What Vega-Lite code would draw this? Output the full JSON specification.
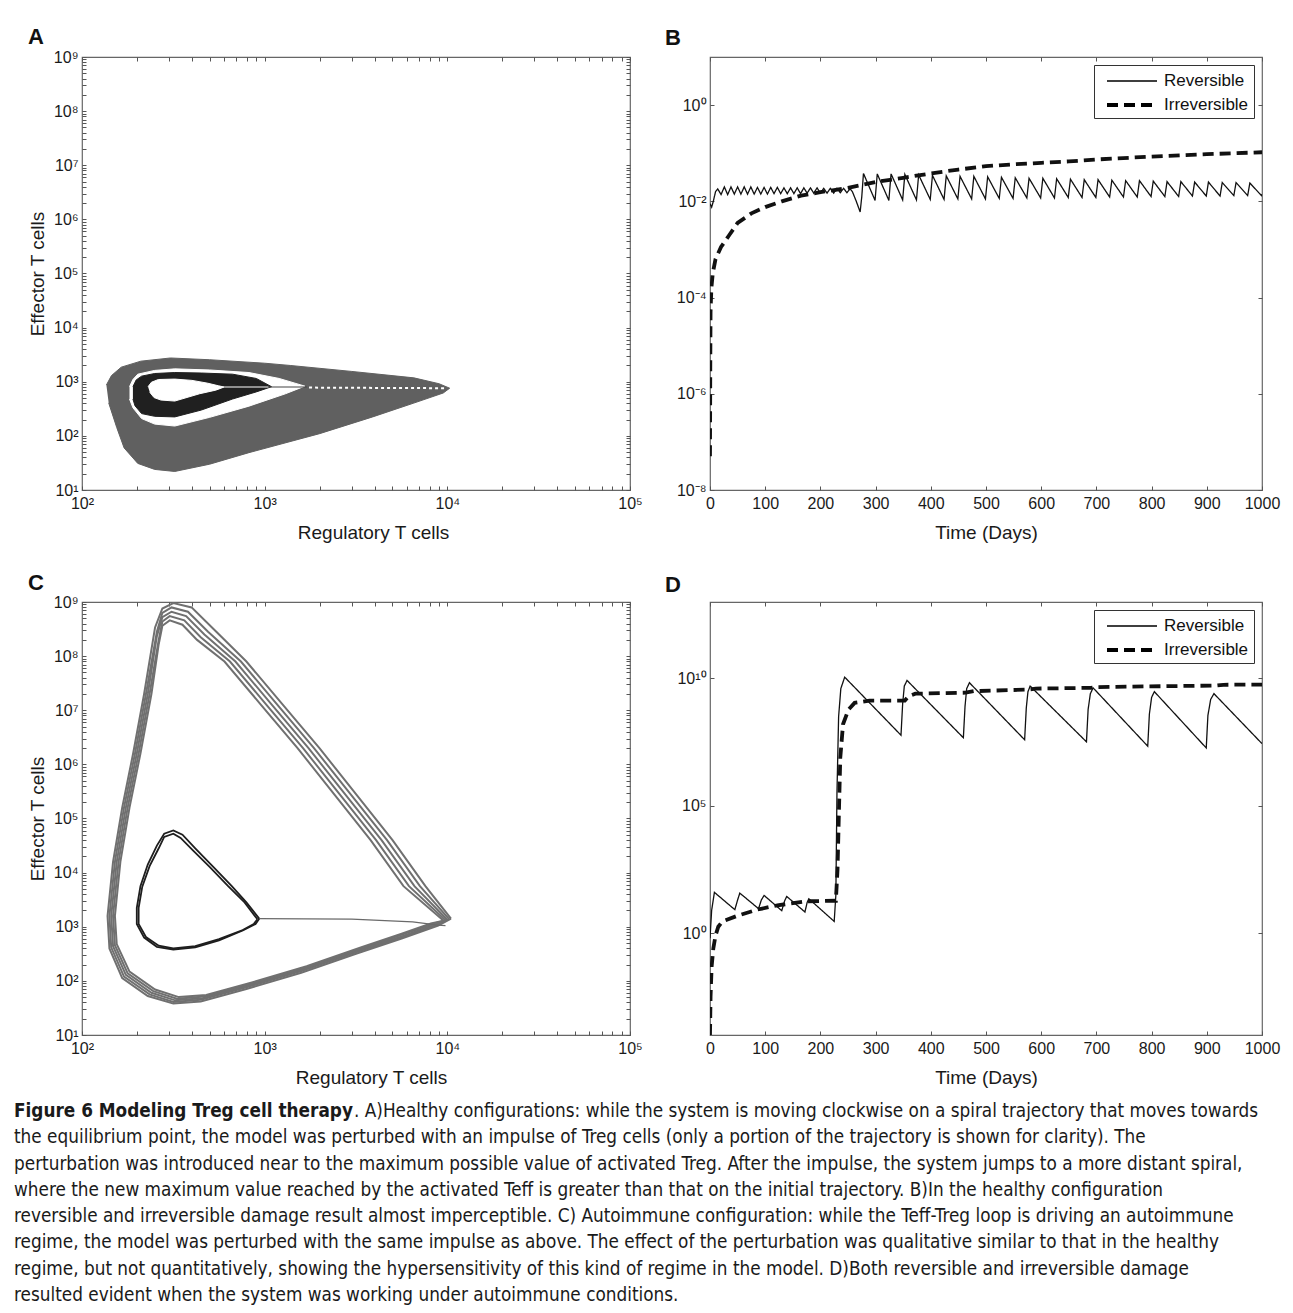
{
"$schema": "https://vega.github.io/schema/vega-lite/v6.json",
"padding": {"left": 14, "top": 25, "right": 5, "bottom": 5},
"background": "white",
"config": {
  "font": "Liberation Sans",
  "view": {"stroke": "#666666", "strokeWidth": 1.2},
  "axis": {"labelFont": "Liberation Sans", "labelFontSize": 16, "labelColor": "#1a1a1a", "titleFont": "Liberation Sans", "titleFontSize": 19, "titleFontWeight": "normal", "titleColor": "#1a1a1a", "tickColor": "#555555", "tickSize": -4, "domain": false, "grid": false, "labelFlush": false, "labelOverlap": false},
  "legend": {"labelFont": "Liberation Sans", "labelFontSize": 17, "labelColor": "#111111", "strokeColor": "#333333", "fillColor": "white", "padding": 5, "symbolType": "M-2.5,0H2.5", "symbolSize": 400, "symbolOffset": 21, "symbolStrokeColor": "black", "rowPadding": 4, "labelOffset": 20, "orient": "top-right", "offset": 8},
  "title": {"font": "Liberation Sans", "fontSize": 22, "fontWeight": "bold", "anchor": "start", "frame": "group", "color": "#111111", "offset": 6}
},
"datasets": {
 "A": [
  {"s":"go","i":1,"x":136,"y":870},{"s":"go","i":2,"x":145,"y":1300},{"s":"go","i":3,"x":164,"y":1860},{"s":"go","i":4,"x":210,"y":2400},{"s":"go","i":5,"x":305,"y":2750},{"s":"go","i":6,"x":500,"y":2550},{"s":"go","i":7,"x":1000,"y":2200},{"s":"go","i":8,"x":1380,"y":2000},{"s":"go","i":9,"x":3000,"y":1550},{"s":"go","i":10,"x":6560,"y":1180},{"s":"go","i":11,"x":9000,"y":920},{"s":"go","i":12,"x":10300,"y":760},{"s":"go","i":13,"x":9500,"y":620},{"s":"go","i":14,"x":6500,"y":400},{"s":"go","i":15,"x":3900,"y":224},{"s":"go","i":16,"x":2000,"y":110},{"s":"go","i":17,"x":820,"y":49},{"s":"go","i":18,"x":500,"y":30},{"s":"go","i":19,"x":322,"y":22},{"s":"go","i":20,"x":250,"y":24},{"s":"go","i":21,"x":202,"y":31},{"s":"go","i":22,"x":170,"y":60},{"s":"go","i":23,"x":155,"y":142},{"s":"go","i":24,"x":140,"y":407},
  {"s":"gi","i":1,"x":182,"y":810},{"s":"gi","i":2,"x":190,"y":1100},{"s":"gi","i":3,"x":202,"y":1380},{"s":"gi","i":4,"x":250,"y":1620},{"s":"gi","i":5,"x":322,"y":1730},{"s":"gi","i":6,"x":500,"y":1650},{"s":"gi","i":7,"x":820,"y":1480},{"s":"gi","i":8,"x":1200,"y":1150},{"s":"gi","i":9,"x":1660,"y":830},{"s":"gi","i":10,"x":1300,"y":600},{"s":"gi","i":11,"x":820,"y":354},{"s":"gi","i":12,"x":500,"y":220},{"s":"gi","i":13,"x":322,"y":152},{"s":"gi","i":14,"x":250,"y":165},{"s":"gi","i":15,"x":212,"y":209},{"s":"gi","i":16,"x":190,"y":330},{"s":"gi","i":17,"x":182,"y":480},
  {"s":"bo","i":1,"x":190,"y":810},{"s":"bo","i":2,"x":198,"y":1080},{"s":"bo","i":3,"x":212,"y":1270},{"s":"bo","i":4,"x":250,"y":1420},{"s":"bo","i":5,"x":322,"y":1480},{"s":"bo","i":6,"x":450,"y":1450},{"s":"bo","i":7,"x":667,"y":1380},{"s":"bo","i":8,"x":900,"y":1150},{"s":"bo","i":9,"x":1090,"y":810},{"s":"bo","i":10,"x":900,"y":650},{"s":"bo","i":11,"x":667,"y":480},{"s":"bo","i":12,"x":450,"y":300},{"s":"bo","i":13,"x":322,"y":224},{"s":"bo","i":14,"x":250,"y":230},{"s":"bo","i":15,"x":212,"y":258},{"s":"bo","i":16,"x":195,"y":360},{"s":"bo","i":17,"x":190,"y":480},
  {"s":"bi","i":1,"x":230,"y":810},{"s":"bi","i":2,"x":240,"y":980},{"s":"bi","i":3,"x":262,"y":1100},{"s":"bi","i":4,"x":322,"y":1120},{"s":"bi","i":5,"x":400,"y":1060},{"s":"bi","i":6,"x":488,"y":940},{"s":"bi","i":7,"x":560,"y":840},{"s":"bi","i":8,"x":600,"y":800},{"s":"bi","i":9,"x":540,"y":700},{"s":"bi","i":10,"x":440,"y":600},{"s":"bi","i":11,"x":322,"y":440},{"s":"bi","i":12,"x":270,"y":460},{"s":"bi","i":13,"x":248,"y":510},{"s":"bi","i":14,"x":235,"y":640},
  {"s":"wl","i":1,"x":600,"y":800},{"s":"wl","i":2,"x":1050,"y":800},
  {"s":"cl","i":1,"x":1050,"y":800},{"s":"cl","i":2,"x":1700,"y":800},
  {"s":"wd","i":1,"x":1750,"y":780},{"s":"wd","i":2,"x":9600,"y":760}
 ],
 "C": [
  {"g":"g0","i":1,"x":1.047e4,"y":1.413e3},{"g":"g0","i":2,"x":7.586e3,"y":5.623e3},{"g":"g0","i":3,"x":5.012e3,"y":3.981e4},{"g":"g0","i":4,"x":3.162e3,"y":2.818e5},{"g":"g0","i":5,"x":1.995e3,"y":1.995e6},{"g":"g0","i":6,"x":1.259e3,"y":1.259e7},{"g":"g0","i":7,"x":7.943e2,"y":7.943e7},{"g":"g0","i":8,"x":5.248e2,"y":3.162e8},{"g":"g0","i":9,"x":3.981e2,"y":7.943e8},{"g":"g0","i":10,"x":3.162e2,"y":9.550e8},{"g":"g0","i":11,"x":2.754e2,"y":7.586e8},{"g":"g0","i":12,"x":2.512e2,"y":3.388e8},{"g":"g0","i":13,"x":2.188e2,"y":1.995e7},{"g":"g0","i":14,"x":1.905e2,"y":1.585e6},{"g":"g0","i":15,"x":1.660e2,"y":1.585e5},{"g":"g0","i":16,"x":1.479e2,"y":1.585e4},{"g":"g0","i":17,"x":1.380e2,"y":1.585e3},{"g":"g0","i":18,"x":1.413e2,"y":3.981e2},{"g":"g0","i":19,"x":1.660e2,"y":1.122e2},{"g":"g0","i":20,"x":2.291e2,"y":5.248e1},{"g":"g0","i":21,"x":3.162e2,"y":3.802e1},{"g":"g0","i":22,"x":4.467e2,"y":4.169e1},{"g":"g0","i":23,"x":7.943e2,"y":7.079e1},{"g":"g0","i":24,"x":1.585e3,"y":1.413e2},{"g":"g0","i":25,"x":3.162e3,"y":3.162e2},{"g":"g0","i":26,"x":5.623e3,"y":6.026e2},{"g":"g0","i":27,"x":8.913e3,"y":1.047e3},{"g":"g0","i":28,"x":1.047e4,"y":1.413e3},
  {"g":"g1","i":1,"x":1.023e4,"y":1.380e3},{"g":"g1","i":2,"x":7.079e3,"y":5.623e3},{"g":"g1","i":3,"x":4.677e3,"y":3.981e4},{"g":"g1","i":4,"x":2.951e3,"y":2.818e5},{"g":"g1","i":5,"x":1.862e3,"y":1.995e6},{"g":"g1","i":6,"x":1.175e3,"y":1.259e7},{"g":"g1","i":7,"x":7.413e2,"y":7.943e7},{"g":"g1","i":8,"x":4.898e2,"y":2.818e8},{"g":"g1","i":9,"x":3.802e2,"y":6.607e8},{"g":"g1","i":10,"x":3.090e2,"y":7.943e8},{"g":"g1","i":11,"x":2.754e2,"y":6.310e8},{"g":"g1","i":12,"x":2.570e2,"y":2.818e8},{"g":"g1","i":13,"x":2.239e2,"y":1.995e7},{"g":"g1","i":14,"x":1.950e2,"y":1.585e6},{"g":"g1","i":15,"x":1.698e2,"y":1.585e5},{"g":"g1","i":16,"x":1.514e2,"y":1.585e4},{"g":"g1","i":17,"x":1.413e2,"y":1.585e3},{"g":"g1","i":18,"x":1.445e2,"y":4.169e2},{"g":"g1","i":19,"x":1.698e2,"y":1.202e2},{"g":"g1","i":20,"x":2.344e2,"y":5.623e1},{"g":"g1","i":21,"x":3.162e2,"y":4.074e1},{"g":"g1","i":22,"x":4.467e2,"y":4.467e1},{"g":"g1","i":23,"x":7.943e2,"y":7.586e1},{"g":"g1","i":24,"x":1.585e3,"y":1.514e2},{"g":"g1","i":25,"x":3.162e3,"y":3.388e2},{"g":"g1","i":26,"x":5.623e3,"y":6.310e2},{"g":"g1","i":27,"x":8.710e3,"y":1.072e3},{"g":"g1","i":28,"x":1.023e4,"y":1.380e3},
  {"g":"g2","i":1,"x":1.000e4,"y":1.349e3},{"g":"g2","i":2,"x":6.607e3,"y":5.623e3},{"g":"g2","i":3,"x":4.365e3,"y":3.981e4},{"g":"g2","i":4,"x":2.754e3,"y":2.818e5},{"g":"g2","i":5,"x":1.738e3,"y":1.995e6},{"g":"g2","i":6,"x":1.096e3,"y":1.259e7},{"g":"g2","i":7,"x":6.918e2,"y":7.943e7},{"g":"g2","i":8,"x":4.677e2,"y":2.512e8},{"g":"g2","i":9,"x":3.715e2,"y":5.495e8},{"g":"g2","i":10,"x":3.090e2,"y":6.607e8},{"g":"g2","i":11,"x":2.754e2,"y":5.248e8},{"g":"g2","i":12,"x":2.570e2,"y":2.344e8},{"g":"g2","i":13,"x":2.291e2,"y":1.995e7},{"g":"g2","i":14,"x":1.995e2,"y":1.585e6},{"g":"g2","i":15,"x":1.738e2,"y":1.585e5},{"g":"g2","i":16,"x":1.549e2,"y":1.585e4},{"g":"g2","i":17,"x":1.445e2,"y":1.585e3},{"g":"g2","i":18,"x":1.479e2,"y":4.365e2},{"g":"g2","i":19,"x":1.738e2,"y":1.288e2},{"g":"g2","i":20,"x":2.399e2,"y":6.026e1},{"g":"g2","i":21,"x":3.236e2,"y":4.365e1},{"g":"g2","i":22,"x":4.571e2,"y":4.786e1},{"g":"g2","i":23,"x":8.128e2,"y":8.128e1},{"g":"g2","i":24,"x":1.622e3,"y":1.622e2},{"g":"g2","i":25,"x":3.236e3,"y":3.631e2},{"g":"g2","i":26,"x":5.623e3,"y":6.607e2},{"g":"g2","i":27,"x":8.511e3,"y":1.096e3},{"g":"g2","i":28,"x":1.000e4,"y":1.349e3},
  {"g":"g3","i":1,"x":9.772e3,"y":1.318e3},{"g":"g3","i":2,"x":6.166e3,"y":5.623e3},{"g":"g3","i":3,"x":4.074e3,"y":3.981e4},{"g":"g3","i":4,"x":2.570e3,"y":2.818e5},{"g":"g3","i":5,"x":1.622e3,"y":1.995e6},{"g":"g3","i":6,"x":1.023e3,"y":1.259e7},{"g":"g3","i":7,"x":6.457e2,"y":7.943e7},{"g":"g3","i":8,"x":4.467e2,"y":2.239e8},{"g":"g3","i":9,"x":3.631e2,"y":4.571e8},{"g":"g3","i":10,"x":3.020e2,"y":5.495e8},{"g":"g3","i":11,"x":2.754e2,"y":4.365e8},{"g":"g3","i":12,"x":2.630e2,"y":1.995e8},{"g":"g3","i":13,"x":2.344e2,"y":1.995e7},{"g":"g3","i":14,"x":2.042e2,"y":1.585e6},{"g":"g3","i":15,"x":1.778e2,"y":1.585e5},{"g":"g3","i":16,"x":1.585e2,"y":1.585e4},{"g":"g3","i":17,"x":1.479e2,"y":1.585e3},{"g":"g3","i":18,"x":1.514e2,"y":4.571e2},{"g":"g3","i":19,"x":1.778e2,"y":1.380e2},{"g":"g3","i":20,"x":2.455e2,"y":6.457e1},{"g":"g3","i":21,"x":3.311e2,"y":4.677e1},{"g":"g3","i":22,"x":4.677e2,"y":5.129e1},{"g":"g3","i":23,"x":8.318e2,"y":8.710e1},{"g":"g3","i":24,"x":1.660e3,"y":1.738e2},{"g":"g3","i":25,"x":3.311e3,"y":3.890e2},{"g":"g3","i":26,"x":5.623e3,"y":7.079e2},{"g":"g3","i":27,"x":8.318e3,"y":1.122e3},{"g":"g3","i":28,"x":9.772e3,"y":1.318e3},
  {"g":"g4","i":1,"x":9.550e3,"y":1.288e3},{"g":"g4","i":2,"x":5.754e3,"y":5.623e3},{"g":"g4","i":3,"x":3.802e3,"y":3.981e4},{"g":"g4","i":4,"x":2.399e3,"y":2.818e5},{"g":"g4","i":5,"x":1.514e3,"y":1.995e6},{"g":"g4","i":6,"x":9.550e2,"y":1.259e7},{"g":"g4","i":7,"x":6.026e2,"y":7.943e7},{"g":"g4","i":8,"x":4.266e2,"y":1.995e8},{"g":"g4","i":9,"x":3.548e2,"y":3.802e8},{"g":"g4","i":10,"x":3.020e2,"y":4.571e8},{"g":"g4","i":11,"x":2.754e2,"y":3.631e8},{"g":"g4","i":12,"x":2.630e2,"y":1.660e8},{"g":"g4","i":13,"x":2.399e2,"y":1.995e7},{"g":"g4","i":14,"x":2.089e2,"y":1.585e6},{"g":"g4","i":15,"x":1.820e2,"y":1.585e5},{"g":"g4","i":16,"x":1.622e2,"y":1.585e4},{"g":"g4","i":17,"x":1.514e2,"y":1.585e3},{"g":"g4","i":18,"x":1.549e2,"y":4.786e2},{"g":"g4","i":19,"x":1.820e2,"y":1.479e2},{"g":"g4","i":20,"x":2.512e2,"y":6.918e1},{"g":"g4","i":21,"x":3.388e2,"y":5.012e1},{"g":"g4","i":22,"x":4.786e2,"y":5.495e1},{"g":"g4","i":23,"x":8.511e2,"y":9.333e1},{"g":"g4","i":24,"x":1.698e3,"y":1.862e2},{"g":"g4","i":25,"x":3.388e3,"y":4.169e2},{"g":"g4","i":26,"x":5.623e3,"y":7.413e2},{"g":"g4","i":27,"x":8.128e3,"y":1.148e3},{"g":"g4","i":28,"x":9.550e3,"y":1.288e3},
  {"g":"b0","i":1,"x":9.333e2,"y":1.413e3},{"g":"b0","i":2,"x":7.943e2,"y":2.818e3},{"g":"b0","i":3,"x":6.607e2,"y":5.623e3},{"g":"b0","i":4,"x":5.248e2,"y":1.259e4},{"g":"b0","i":5,"x":4.169e2,"y":2.818e4},{"g":"b0","i":6,"x":3.548e2,"y":5.012e4},{"g":"b0","i":7,"x":3.162e2,"y":6.026e4},{"g":"b0","i":8,"x":2.818e2,"y":5.248e4},{"g":"b0","i":9,"x":2.570e2,"y":3.162e4},{"g":"b0","i":10,"x":2.291e2,"y":1.413e4},{"g":"b0","i":11,"x":2.089e2,"y":5.623e3},{"g":"b0","i":12,"x":1.995e2,"y":2.239e3},{"g":"b0","i":13,"x":1.995e2,"y":1.122e3},{"g":"b0","i":14,"x":2.188e2,"y":6.310e2},{"g":"b0","i":15,"x":2.570e2,"y":4.266e2},{"g":"b0","i":16,"x":3.162e2,"y":3.802e2},{"g":"b0","i":17,"x":4.169e2,"y":4.169e2},{"g":"b0","i":18,"x":5.623e2,"y":5.623e2},{"g":"b0","i":19,"x":7.586e2,"y":8.511e2},{"g":"b0","i":20,"x":8.913e2,"y":1.122e3},{"g":"b0","i":21,"x":9.333e2,"y":1.413e3},
  {"g":"b1","i":1,"x":9.120e2,"y":1.380e3},{"g":"b1","i":2,"x":7.762e2,"y":2.818e3},{"g":"b1","i":3,"x":6.310e2,"y":5.623e3},{"g":"b1","i":4,"x":5.012e2,"y":1.259e4},{"g":"b1","i":5,"x":4.074e2,"y":2.512e4},{"g":"b1","i":6,"x":3.467e2,"y":4.365e4},{"g":"b1","i":7,"x":3.162e2,"y":5.248e4},{"g":"b1","i":8,"x":2.818e2,"y":4.571e4},{"g":"b1","i":9,"x":2.630e2,"y":2.818e4},{"g":"b1","i":10,"x":2.344e2,"y":1.318e4},{"g":"b1","i":11,"x":2.138e2,"y":5.495e3},{"g":"b1","i":12,"x":2.042e2,"y":2.239e3},{"g":"b1","i":13,"x":2.042e2,"y":1.122e3},{"g":"b1","i":14,"x":2.239e2,"y":6.457e2},{"g":"b1","i":15,"x":2.630e2,"y":4.467e2},{"g":"b1","i":16,"x":3.162e2,"y":3.981e2},{"g":"b1","i":17,"x":4.169e2,"y":4.365e2},{"g":"b1","i":18,"x":5.623e2,"y":5.888e2},{"g":"b1","i":19,"x":7.586e2,"y":8.710e2},{"g":"b1","i":20,"x":8.710e2,"y":1.122e3},{"g":"b1","i":21,"x":9.120e2,"y":1.380e3},
  {"g":"cn","i":1,"x":9.333e2,"y":1.413e3},{"g":"cn","i":2,"x":3000,"y":1380},{"g":"cn","i":3,"x":6460,"y":1230},{"g":"cn","i":4,"x":8913,"y":1072},{"g":"cn","i":5,"x":9772,"y":1050}
 ],
 "B": [
  {"series":"Reversible","t":0,"v":8.913e-3},{"series":"Reversible","t":3,"v":7.586e-3},{"series":"Reversible","t":6,"v":1.0e-2},{"series":"Reversible","t":10,"v":1.585e-2},{"series":"Reversible","t":14,"v":1.820e-2},
  {"series":"Reversible","t":20,"v":1.380e-2},{"series":"Reversible","t":26,"v":1.995e-2},{"series":"Reversible","t":32,"v":1.380e-2},{"series":"Reversible","t":38,"v":1.995e-2},{"series":"Reversible","t":44,"v":1.413e-2},{"series":"Reversible","t":50,"v":1.995e-2},{"series":"Reversible","t":56,"v":1.413e-2},{"series":"Reversible","t":62,"v":1.995e-2},{"series":"Reversible","t":68,"v":1.413e-2},{"series":"Reversible","t":74,"v":1.995e-2},{"series":"Reversible","t":80,"v":1.413e-2},{"series":"Reversible","t":86,"v":1.950e-2},{"series":"Reversible","t":92,"v":1.413e-2},{"series":"Reversible","t":98,"v":1.950e-2},{"series":"Reversible","t":104,"v":1.413e-2},{"series":"Reversible","t":110,"v":1.950e-2},{"series":"Reversible","t":116,"v":1.445e-2},{"series":"Reversible","t":122,"v":1.950e-2},{"series":"Reversible","t":128,"v":1.445e-2},{"series":"Reversible","t":134,"v":1.905e-2},{"series":"Reversible","t":140,"v":1.445e-2},{"series":"Reversible","t":146,"v":1.905e-2},{"series":"Reversible","t":152,"v":1.445e-2},{"series":"Reversible","t":158,"v":1.905e-2},{"series":"Reversible","t":164,"v":1.445e-2},{"series":"Reversible","t":170,"v":1.905e-2},{"series":"Reversible","t":176,"v":1.479e-2},{"series":"Reversible","t":182,"v":1.905e-2},{"series":"Reversible","t":188,"v":1.479e-2},{"series":"Reversible","t":194,"v":1.905e-2},{"series":"Reversible","t":200,"v":1.479e-2},{"series":"Reversible","t":206,"v":1.862e-2},{"series":"Reversible","t":212,"v":1.479e-2},{"series":"Reversible","t":218,"v":1.862e-2},{"series":"Reversible","t":224,"v":1.479e-2},{"series":"Reversible","t":230,"v":1.862e-2},{"series":"Reversible","t":236,"v":1.514e-2},{"series":"Reversible","t":242,"v":1.862e-2},{"series":"Reversible","t":248,"v":1.514e-2},{"series":"Reversible","t":254,"v":1.820e-2},
  {"series":"Reversible","t":258,"v":1.585e-2},{"series":"Reversible","t":265,"v":1.0e-2},{"series":"Reversible","t":272,"v":6.026e-3},{"series":"Reversible","t":275,"v":1.259e-2},{"series":"Reversible","t":278,"v":3.802e-2},
  {"series":"Reversible","t":299,"v":1.047e-2},{"series":"Reversible","t":303,"v":3.715e-2},{"series":"Reversible","t":324,"v":1.047e-2},{"series":"Reversible","t":328,"v":3.715e-2},{"series":"Reversible","t":349,"v":1.072e-2},{"series":"Reversible","t":353,"v":3.631e-2},{"series":"Reversible","t":374,"v":1.072e-2},{"series":"Reversible","t":378,"v":3.548e-2},{"series":"Reversible","t":399,"v":1.096e-2},{"series":"Reversible","t":403,"v":3.467e-2},{"series":"Reversible","t":424,"v":1.096e-2},{"series":"Reversible","t":428,"v":3.388e-2},{"series":"Reversible","t":449,"v":1.122e-2},{"series":"Reversible","t":453,"v":3.311e-2},{"series":"Reversible","t":474,"v":1.122e-2},{"series":"Reversible","t":478,"v":3.311e-2},{"series":"Reversible","t":499,"v":1.122e-2},{"series":"Reversible","t":503,"v":3.236e-2},{"series":"Reversible","t":524,"v":1.148e-2},{"series":"Reversible","t":528,"v":3.162e-2},{"series":"Reversible","t":549,"v":1.148e-2},{"series":"Reversible","t":553,"v":3.090e-2},{"series":"Reversible","t":574,"v":1.175e-2},{"series":"Reversible","t":578,"v":3.020e-2},{"series":"Reversible","t":599,"v":1.175e-2},{"series":"Reversible","t":603,"v":3.020e-2},{"series":"Reversible","t":624,"v":1.175e-2},{"series":"Reversible","t":628,"v":2.951e-2},{"series":"Reversible","t":649,"v":1.202e-2},{"series":"Reversible","t":653,"v":2.884e-2},{"series":"Reversible","t":674,"v":1.202e-2},{"series":"Reversible","t":678,"v":2.818e-2},{"series":"Reversible","t":699,"v":1.202e-2},{"series":"Reversible","t":703,"v":2.818e-2},{"series":"Reversible","t":724,"v":1.230e-2},{"series":"Reversible","t":728,"v":2.754e-2},{"series":"Reversible","t":749,"v":1.230e-2},{"series":"Reversible","t":753,"v":2.692e-2},{"series":"Reversible","t":774,"v":1.230e-2},{"series":"Reversible","t":778,"v":2.692e-2},{"series":"Reversible","t":799,"v":1.259e-2},{"series":"Reversible","t":803,"v":2.630e-2},{"series":"Reversible","t":824,"v":1.259e-2},{"series":"Reversible","t":828,"v":2.570e-2},{"series":"Reversible","t":849,"v":1.259e-2},{"series":"Reversible","t":853,"v":2.570e-2},{"series":"Reversible","t":874,"v":1.288e-2},{"series":"Reversible","t":878,"v":2.512e-2},{"series":"Reversible","t":899,"v":1.288e-2},{"series":"Reversible","t":903,"v":2.512e-2},{"series":"Reversible","t":924,"v":1.288e-2},{"series":"Reversible","t":928,"v":2.455e-2},{"series":"Reversible","t":949,"v":1.318e-2},{"series":"Reversible","t":953,"v":2.455e-2},{"series":"Reversible","t":974,"v":1.318e-2},{"series":"Reversible","t":978,"v":2.399e-2},{"series":"Reversible","t":999,"v":1.318e-2},{"series":"Reversible","t":1000,"v":1.4e-2},
  {"series":"Irreversible","t":0,"v":5.012e-8},{"series":"Irreversible","t":0.5,"v":3.162e-6},{"series":"Irreversible","t":1,"v":5.012e-5},{"series":"Irreversible","t":2.5,"v":1.585e-4},{"series":"Irreversible","t":5,"v":3.162e-4},{"series":"Irreversible","t":10,"v":6.310e-4},{"series":"Irreversible","t":20,"v":1.122e-3},{"series":"Irreversible","t":35,"v":1.995e-3},{"series":"Irreversible","t":50,"v":3.548e-3},{"series":"Irreversible","t":75,"v":5.623e-3},{"series":"Irreversible","t":100,"v":7.586e-3},{"series":"Irreversible","t":130,"v":1.0e-2},{"series":"Irreversible","t":165,"v":1.318e-2},{"series":"Irreversible","t":200,"v":1.549e-2},{"series":"Irreversible","t":250,"v":1.905e-2},{"series":"Irreversible","t":300,"v":2.512e-2},{"series":"Irreversible","t":350,"v":3.090e-2},{"series":"Irreversible","t":400,"v":3.802e-2},{"series":"Irreversible","t":450,"v":4.571e-2},{"series":"Irreversible","t":500,"v":5.370e-2},{"series":"Irreversible","t":550,"v":5.888e-2},{"series":"Irreversible","t":600,"v":6.310e-2},{"series":"Irreversible","t":650,"v":6.761e-2},{"series":"Irreversible","t":700,"v":7.413e-2},{"series":"Irreversible","t":800,"v":8.511e-2},{"series":"Irreversible","t":900,"v":9.550e-2},{"series":"Irreversible","t":1000,"v":1.047e-1}
 ],
 "D": [
  {"series":"Reversible","t":0,"v":6.310e-1},{"series":"Reversible","t":3,"v":7.943},{"series":"Reversible","t":8,"v":3.981e1},{"series":"Reversible","t":45,"v":8.318},{"series":"Reversible","t":50,"v":2.0e1},{"series":"Reversible","t":54,"v":3.715e1},{"series":"Reversible","t":88,"v":9.120},{"series":"Reversible","t":93,"v":2.0e1},{"series":"Reversible","t":98,"v":3.020e1},{"series":"Reversible","t":130,"v":7.586},{"series":"Reversible","t":135,"v":1.8e1},{"series":"Reversible","t":139,"v":2.754e1},{"series":"Reversible","t":172,"v":6.761},{"series":"Reversible","t":176,"v":1.6e1},{"series":"Reversible","t":179,"v":2.239e1},{"series":"Reversible","t":225,"v":2.884},{"series":"Reversible","t":228,"v":3.162e1},{"series":"Reversible","t":230,"v":3.162e5},{"series":"Reversible","t":233,"v":3.162e8},{"series":"Reversible","t":237,"v":3.981e9},{"series":"Reversible","t":244,"v":1.122e10},{"series":"Reversible","t":346,"v":5.888e7},{"series":"Reversible","t":349,"v":1.0e9},{"series":"Reversible","t":352,"v":5.012e9},{"series":"Reversible","t":357,"v":8.318e9},{"series":"Reversible","t":459,"v":4.677e7},{"series":"Reversible","t":462,"v":8.0e8},{"series":"Reversible","t":465,"v":3.981e9},{"series":"Reversible","t":470,"v":6.761e9},{"series":"Reversible","t":570,"v":3.890e7},{"series":"Reversible","t":573,"v":7.0e8},{"series":"Reversible","t":576,"v":3.0e9},{"series":"Reversible","t":580,"v":5.012e9},{"series":"Reversible","t":682,"v":3.236e7},{"series":"Reversible","t":685,"v":6.0e8},{"series":"Reversible","t":689,"v":2.5e9},{"series":"Reversible","t":694,"v":4.266e9},{"series":"Reversible","t":793,"v":2.188e7},{"series":"Reversible","t":796,"v":4.0e8},{"series":"Reversible","t":800,"v":1.8e9},{"series":"Reversible","t":805,"v":3.020e9},{"series":"Reversible","t":899,"v":1.862e7},{"series":"Reversible","t":902,"v":3.5e8},{"series":"Reversible","t":907,"v":1.5e9},{"series":"Reversible","t":913,"v":2.512e9},{"series":"Reversible","t":1000,"v":2.754e7},
  {"series":"Irreversible","t":0,"v":1.0e-4},{"series":"Irreversible","t":1,"v":3.162e-3},{"series":"Irreversible","t":3,"v":5.012e-2},{"series":"Irreversible","t":6,"v":2.512e-1},{"series":"Irreversible","t":10,"v":7.943e-1},{"series":"Irreversible","t":15,"v":1.778},{"series":"Irreversible","t":22,"v":2.818},{"series":"Irreversible","t":47,"v":4.571},{"series":"Irreversible","t":85,"v":8.318},{"series":"Irreversible","t":122,"v":1.230e1},{"series":"Irreversible","t":175,"v":1.778e1},{"series":"Irreversible","t":228,"v":1.862e1},{"series":"Irreversible","t":231,"v":3.162e2},{"series":"Irreversible","t":233,"v":1.820e4},{"series":"Irreversible","t":236,"v":7.586e6},{"series":"Irreversible","t":241,"v":1.585e8},{"series":"Irreversible","t":251,"v":6.026e8},{"series":"Irreversible","t":262,"v":1.096e9},{"series":"Irreversible","t":289,"v":1.349e9},{"series":"Irreversible","t":353,"v":1.349e9},{"series":"Irreversible","t":360,"v":1.995e9},{"series":"Irreversible","t":372,"v":2.512e9},{"series":"Irreversible","t":463,"v":2.754e9},{"series":"Irreversible","t":478,"v":3.162e9},{"series":"Irreversible","t":576,"v":3.631e9},{"series":"Irreversible","t":590,"v":3.981e9},{"series":"Irreversible","t":690,"v":4.266e9},{"series":"Irreversible","t":700,"v":4.571e9},{"series":"Irreversible","t":917,"v":5.248e9},{"series":"Irreversible","t":930,"v":5.623e9},{"series":"Irreversible","t":1000,"v":5.754e9}
 ],
 "caption": [
  {"line":0,"part":"b","text":"Figure 6 Modeling Treg cell therapy"},
  {"line":0,"part":"r0","text":". A)Healthy configurations: while the system is moving clockwise on a spiral trajectory that moves towards"},
  {"line":1,"part":"r","text":"the equilibrium point, the model was perturbed with an impulse of Treg cells (only a portion of the trajectory is shown for clarity). The"},
  {"line":2,"part":"r","text":"perturbation was introduced near to the maximum possible value of activated Treg. After the impulse, the system jumps to a more distant spiral,"},
  {"line":3,"part":"r","text":"where the new maximum value reached by the activated Teff is greater than that on the initial trajectory. B)In the healthy configuration"},
  {"line":4,"part":"r","text":"reversible and irreversible damage result almost imperceptible. C) Autoimmune configuration: while the Teff-Treg loop is driving an autoimmune"},
  {"line":5,"part":"r","text":"regime, the model was perturbed with the same impulse as above. The effect of the perturbation was qualitative similar to that in the healthy"},
  {"line":6,"part":"r","text":"regime, but not quantitatively, showing the hypersensitivity of this kind of regime in the model. D)Both reversible and irreversible damage"},
  {"line":7,"part":"r","text":"resulted evident when the system was working under autoimmune conditions."}
 ]
},
"spacing": 10,
"resolve": {"scale": {"strokeDash": "independent", "strokeWidth": "independent"}, "legend": {"strokeDash": "independent", "strokeWidth": "independent"}},
"vconcat": [
 {
  "spacing": 28,
  "resolve": {"scale": {"strokeDash": "independent", "strokeWidth": "independent"}, "legend": {"strokeDash": "independent", "strokeWidth": "independent"}},
  "vconcat": [
   {
    "spacing": 21,
    "resolve": {"scale": {"strokeDash": "independent", "strokeWidth": "independent"}, "legend": {"strokeDash": "independent", "strokeWidth": "independent"}},
    "hconcat": [
     {
      "width": 548, "height": 433,
      "title": {"text": "A", "dx": -54, "offset": 0},
      "data": {"name": "A"},
      "resolve": {"axis": {"x": "independent", "y": "independent"}},
      "layer": [
       {"transform": [{"filter": "datum.s == 'go'"}],
        "mark": {"type": "line", "fill": "#606060", "stroke": "#606060", "strokeWidth": 1, "clip": true},
        "encoding": {
         "x": {"field": "x", "type": "quantitative", "scale": {"type": "log", "domain": [100, 100000]}, "axis": {"tickCount": 20, "labelPadding": 9, "titlePadding": 12, "titleX": 291, "title": "Regulatory T cells", "labelExpr": "abs(log(datum.value)/LN10 - round(log(datum.value)/LN10)) < 0.0001 ? '10' + (round(log(datum.value)/LN10) < 0 ? '⁻' : '') + ['⁰','¹','²','³','⁴','⁵','⁶','⁷','⁸','⁹','¹⁰'][abs(round(log(datum.value)/LN10))] : ''"}},
         "y": {"field": "y", "type": "quantitative", "scale": {"type": "log", "domain": [10, 1000000000]}, "axis": {"tickCount": 20, "labelPadding": 8, "titlePadding": 6, "title": "Effector T cells", "labelExpr": "abs(log(datum.value)/LN10 - round(log(datum.value)/LN10)) < 0.0001 ? '10' + (round(log(datum.value)/LN10) < 0 ? '⁻' : '') + ['⁰','¹','²','³','⁴','⁵','⁶','⁷','⁸','⁹','¹⁰'][abs(round(log(datum.value)/LN10))] : ''"}},
         "order": {"field": "i", "type": "quantitative"}
        }},
       {"transform": [{"filter": "datum.s == 'gi'"}],
        "mark": {"type": "line", "fill": "white", "stroke": "white", "strokeWidth": 1, "clip": true},
        "encoding": {
         "x": {"field": "x", "type": "quantitative", "scale": {"type": "log", "domain": [100, 100000]}, "axis": null},
         "y": {"field": "y", "type": "quantitative", "scale": {"type": "log", "domain": [10, 1000000000]}, "axis": null},
         "order": {"field": "i", "type": "quantitative"}
        }},
       {"transform": [{"filter": "datum.s == 'bo'"}],
        "mark": {"type": "line", "fill": "#202020", "stroke": "#202020", "strokeWidth": 1, "clip": true},
        "encoding": {
         "x": {"field": "x", "type": "quantitative", "scale": {"type": "log", "domain": [100, 100000]}, "axis": null},
         "y": {"field": "y", "type": "quantitative", "scale": {"type": "log", "domain": [10, 1000000000]}, "axis": null},
         "order": {"field": "i", "type": "quantitative"}
        }},
       {"transform": [{"filter": "datum.s == 'bi'"}],
        "mark": {"type": "line", "fill": "white", "stroke": "white", "strokeWidth": 1, "clip": true},
        "encoding": {
         "x": {"field": "x", "type": "quantitative", "scale": {"type": "log", "domain": [100, 100000]}, "axis": null},
         "y": {"field": "y", "type": "quantitative", "scale": {"type": "log", "domain": [10, 1000000000]}, "axis": null},
         "order": {"field": "i", "type": "quantitative"}
        }},
       {"transform": [{"filter": "datum.s == 'wl'"}],
        "mark": {"type": "line", "stroke": "white", "strokeWidth": 1.2, "clip": true},
        "encoding": {
         "x": {"field": "x", "type": "quantitative", "scale": {"type": "log", "domain": [100, 100000]}, "axis": null},
         "y": {"field": "y", "type": "quantitative", "scale": {"type": "log", "domain": [10, 1000000000]}, "axis": null},
         "order": {"field": "i", "type": "quantitative"}
        }},
       {"transform": [{"filter": "datum.s == 'cl'"}],
        "mark": {"type": "line", "stroke": "#444444", "strokeWidth": 1.2, "clip": true},
        "encoding": {
         "x": {"field": "x", "type": "quantitative", "scale": {"type": "log", "domain": [100, 100000]}, "axis": null},
         "y": {"field": "y", "type": "quantitative", "scale": {"type": "log", "domain": [10, 1000000000]}, "axis": null},
         "order": {"field": "i", "type": "quantitative"}
        }},
       {"transform": [{"filter": "datum.s == 'wd'"}],
        "mark": {"type": "line", "stroke": "white", "strokeWidth": 2, "strokeDash": [3, 3], "clip": true},
        "encoding": {
         "x": {"field": "x", "type": "quantitative", "scale": {"type": "log", "domain": [100, 100000]}, "axis": null},
         "y": {"field": "y", "type": "quantitative", "scale": {"type": "log", "domain": [10, 1000000000]}, "axis": null},
         "order": {"field": "i", "type": "quantitative"}
        }},
       {"mark": {"type": "point", "opacity": 0},
        "encoding": {
         "x": {"field": "x", "type": "quantitative", "scale": {"type": "log", "domain": [100, 100000]}, "axis": {"orient": "top", "labels": false, "tickCount": 20, "title": null}},
         "y": {"field": "y", "type": "quantitative", "scale": {"type": "log", "domain": [10, 1000000000]}, "axis": {"orient": "right", "labels": false, "tickCount": 20, "title": null}}
        }}
      ]
     },
     {
      "width": 552, "height": 433,
      "title": {"text": "B", "dx": -45, "offset": 7},
      "data": {"name": "B"},
      "resolve": {"axis": {"x": "independent", "y": "independent"}},
      "layer": [
       {"mark": {"type": "line", "color": "#111111", "clip": true},
        "encoding": {
         "x": {"field": "t", "type": "quantitative", "scale": {"domain": [0, 1000]}, "axis": {"values": [0,100,200,300,400,500,600,700,800,900,1000], "format": "d", "labelPadding": 9, "titlePadding": 12, "title": "Time (Days)"}},
         "y": {"field": "v", "type": "quantitative", "scale": {"type": "log", "domain": [1e-8, 10]}, "axis": {"values": [1e-8, 1e-6, 1e-4, 1e-2, 1], "labelPadding": 8, "title": null, "labelExpr": "'10' + (round(log(datum.value)/LN10) < 0 ? '⁻' : '') + ['⁰','¹','²','³','⁴','⁵','⁶','⁷','⁸','⁹','¹⁰'][abs(round(log(datum.value)/LN10))]"}},
         "strokeDash": {"field": "series", "type": "nominal", "scale": {"domain": ["Reversible", "Irreversible"], "range": [[1, 0], [11, 6]]}, "legend": {"title": null}},
         "strokeWidth": {"field": "series", "type": "nominal", "scale": {"domain": ["Reversible", "Irreversible"], "range": [1.3, 3.8]}, "legend": {"title": null}}
        }},
       {"mark": {"type": "point", "opacity": 0},
        "encoding": {
         "x": {"field": "t", "type": "quantitative", "scale": {"domain": [0, 1000]}, "axis": {"orient": "top", "labels": false, "values": [0,100,200,300,400,500,600,700,800,900,1000], "title": null}},
         "y": {"field": "v", "type": "quantitative", "scale": {"type": "log", "domain": [1e-8, 10]}, "axis": {"orient": "right", "labels": false, "values": [1e-8, 1e-6, 1e-4, 1e-2, 1], "title": null}}
        }}
      ]
     }
    ]
   },
   {
    "spacing": 21,
    "resolve": {"scale": {"strokeDash": "independent", "strokeWidth": "independent"}, "legend": {"strokeDash": "independent", "strokeWidth": "independent"}},
    "hconcat": [
     {
      "width": 548, "height": 433,
      "title": {"text": "C", "dx": -54, "offset": -1},
      "data": {"name": "C"},
      "resolve": {"axis": {"x": "independent", "y": "independent"}},
      "layer": [
       {"transform": [{"filter": "indexof(['g0','g1','g2','g3','g4'], datum.g) >= 0"}],
        "mark": {"type": "line", "stroke": "#707070", "strokeWidth": 2, "clip": true},
        "encoding": {
         "x": {"field": "x", "type": "quantitative", "scale": {"type": "log", "domain": [100, 100000]}, "axis": {"tickCount": 20, "labelPadding": 9, "titlePadding": 12, "titleX": 289, "title": "Regulatory T cells", "labelExpr": "abs(log(datum.value)/LN10 - round(log(datum.value)/LN10)) < 0.0001 ? '10' + (round(log(datum.value)/LN10) < 0 ? '⁻' : '') + ['⁰','¹','²','³','⁴','⁵','⁶','⁷','⁸','⁹','¹⁰'][abs(round(log(datum.value)/LN10))] : ''"}},
         "y": {"field": "y", "type": "quantitative", "scale": {"type": "log", "domain": [10, 1000000000]}, "axis": {"tickCount": 20, "labelPadding": 8, "titlePadding": 6, "title": "Effector T cells", "labelExpr": "abs(log(datum.value)/LN10 - round(log(datum.value)/LN10)) < 0.0001 ? '10' + (round(log(datum.value)/LN10) < 0 ? '⁻' : '') + ['⁰','¹','²','³','⁴','⁵','⁶','⁷','⁸','⁹','¹⁰'][abs(round(log(datum.value)/LN10))] : ''"}},
         "detail": {"field": "g", "type": "nominal"},
         "order": {"field": "i", "type": "quantitative"}
        }},
       {"transform": [{"filter": "datum.g == 'cn'"}],
        "mark": {"type": "line", "stroke": "#6a6a6a", "strokeWidth": 1.3, "clip": true},
        "encoding": {
         "x": {"field": "x", "type": "quantitative", "scale": {"type": "log", "domain": [100, 100000]}, "axis": null},
         "y": {"field": "y", "type": "quantitative", "scale": {"type": "log", "domain": [10, 1000000000]}, "axis": null},
         "order": {"field": "i", "type": "quantitative"}
        }},
       {"transform": [{"filter": "datum.g == 'b0' || datum.g == 'b1'"}],
        "mark": {"type": "line", "stroke": "#1e1e1e", "strokeWidth": 1.8, "clip": true},
        "encoding": {
         "x": {"field": "x", "type": "quantitative", "scale": {"type": "log", "domain": [100, 100000]}, "axis": null},
         "y": {"field": "y", "type": "quantitative", "scale": {"type": "log", "domain": [10, 1000000000]}, "axis": null},
         "detail": {"field": "g", "type": "nominal"},
         "order": {"field": "i", "type": "quantitative"}
        }},
       {"mark": {"type": "point", "opacity": 0},
        "encoding": {
         "x": {"field": "x", "type": "quantitative", "scale": {"type": "log", "domain": [100, 100000]}, "axis": {"orient": "top", "labels": false, "tickCount": 20, "title": null}},
         "y": {"field": "y", "type": "quantitative", "scale": {"type": "log", "domain": [10, 1000000000]}, "axis": {"orient": "right", "labels": false, "tickCount": 20, "title": null}}
        }}
      ]
     },
     {
      "width": 552, "height": 433,
      "title": {"text": "D", "dx": -45, "offset": 5},
      "data": {"name": "D"},
      "resolve": {"axis": {"x": "independent", "y": "independent"}},
      "layer": [
       {"mark": {"type": "line", "color": "#111111", "clip": true},
        "encoding": {
         "x": {"field": "t", "type": "quantitative", "scale": {"domain": [0, 1000]}, "axis": {"values": [0,100,200,300,400,500,600,700,800,900,1000], "format": "d", "labelPadding": 9, "titlePadding": 12, "title": "Time (Days)"}},
         "y": {"field": "v", "type": "quantitative", "scale": {"type": "log", "domain": [1e-4, 1e13]}, "axis": {"values": [1, 100000, 10000000000], "labelPadding": 8, "title": null, "labelExpr": "'10' + (round(log(datum.value)/LN10) < 0 ? '⁻' : '') + ['⁰','¹','²','³','⁴','⁵','⁶','⁷','⁸','⁹','¹⁰'][abs(round(log(datum.value)/LN10))]"}},
         "strokeDash": {"field": "series", "type": "nominal", "scale": {"domain": ["Reversible", "Irreversible"], "range": [[1, 0], [11, 6]]}, "legend": {"title": null}},
         "strokeWidth": {"field": "series", "type": "nominal", "scale": {"domain": ["Reversible", "Irreversible"], "range": [1.3, 3.8]}, "legend": {"title": null}}
        }},
       {"mark": {"type": "point", "opacity": 0},
        "encoding": {
         "x": {"field": "t", "type": "quantitative", "scale": {"domain": [0, 1000]}, "axis": {"orient": "top", "labels": false, "values": [0,100,200,300,400,500,600,700,800,900,1000], "title": null}},
         "y": {"field": "v", "type": "quantitative", "scale": {"type": "log", "domain": [1e-4, 1e13]}, "axis": {"orient": "right", "labels": false, "values": [1, 100000, 10000000000], "title": null}}
        }}
      ]
     }
    ]
   }
  ]
 },
 {
  "width": 1268, "height": 210,
  "data": {"name": "caption"},
  "view": {"stroke": null},
  "layer": [
   {"transform": [{"filter": "datum.part == 'b'"}],
    "mark": {"type": "text", "align": "left", "baseline": "middle", "x": 0, "dx": -68, "font": "'Liberation Sans Narrow', 'Arial Narrow', 'DejaVu Sans Condensed', sans-serif", "fontSize": 18.8, "fontWeight": "bold", "color": "#1a1a1a"},
    "encoding": {"y": {"field": "line", "type": "ordinal", "scale": {"type": "point", "domain": [0,1,2,3,4,5,6,7], "padding": 0.5}, "axis": null}, "text": {"field": "text"}}},
   {"transform": [{"filter": "datum.part == 'r0'"}],
    "mark": {"type": "text", "align": "left", "baseline": "middle", "x": 0, "dx": 272, "font": "'Liberation Sans Narrow', 'Arial Narrow', 'DejaVu Sans Condensed', sans-serif", "fontSize": 18.8, "color": "#1a1a1a"},
    "encoding": {"y": {"field": "line", "type": "ordinal", "scale": {"type": "point", "domain": [0,1,2,3,4,5,6,7], "padding": 0.5}, "axis": null}, "text": {"field": "text"}}},
   {"transform": [{"filter": "datum.part == 'r'"}],
    "mark": {"type": "text", "align": "left", "baseline": "middle", "x": 0, "dx": -68, "font": "'Liberation Sans Narrow', 'Arial Narrow', 'DejaVu Sans Condensed', sans-serif", "fontSize": 18.8, "color": "#1a1a1a"},
    "encoding": {"y": {"field": "line", "type": "ordinal", "scale": {"type": "point", "domain": [0,1,2,3,4,5,6,7], "padding": 0.5}, "axis": null}, "text": {"field": "text"}}}
  ]
 }
]
}
